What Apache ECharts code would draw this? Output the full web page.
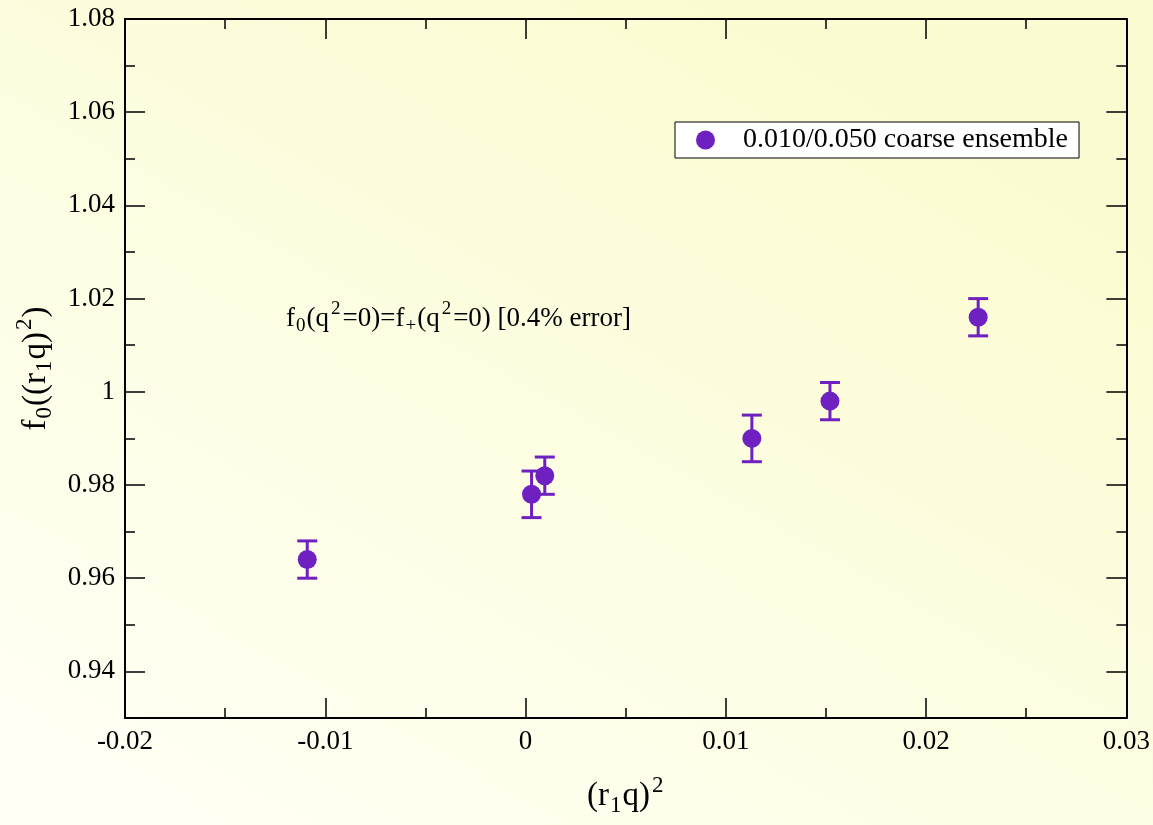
<!DOCTYPE html>
<html>
<head>
<meta charset="utf-8">
<script src="https://cdn.jsdelivr.net/npm/echarts@6/dist/echarts.min.js"></script>
<style>
html,body{margin:0;padding:0;}
#chart{width:1153px;height:825px;}
</style>
</head>
<body>
<div id="chart"></div>
<script>
// ---- data ----
var seriesName = '0.010/0.050 coarse ensemble';
var xValues = [-0.0109, 0.0003, 0.00096, 0.0113, 0.0152, 0.0226];
var yValues = [0.964, 0.978, 0.982, 0.990, 0.998, 1.016];
var yErrors = [0.004, 0.005, 0.004, 0.005, 0.004, 0.004];

var xMin = -0.02, xMax = 0.03, xStep = 0.01;
var xTickLabels = ['-0.02', '-0.01', '0', '0.01', '0.02', '0.03'];
var yMin = 0.93, yMax = 1.08;
var yMajorTicks = [0.94, 0.96, 0.98, 1.00, 1.02, 1.04, 1.06, 1.08];
var yTickLabels = ['0.94', '0.96', '0.98', '1', '1.02', '1.04', '1.06', '1.08'];
var yMinorTicks = [0.95, 0.97, 0.99, 1.01, 1.03, 1.05, 1.07];

var FONT = '"Liberation Serif", "DejaVu Serif", serif';
var PURPLE = '#6f20c0';

var points = xValues.map(function (x, i) { return [x, yValues[i]]; });
var errData = xValues.map(function (x, i) { return [x, yValues[i] - yErrors[i], yValues[i] + yErrors[i]]; });

var chart = echarts.init(document.getElementById('chart'), null, {renderer: 'canvas'});

function xLabel(v) {
  var idx = Math.round((v - xMin) / xStep);
  return xTickLabels[idx] !== undefined ? xTickLabels[idx] : '';
}
function yLabel(v) {
  for (var i = 0; i < yMajorTicks.length; i++) {
    if (Math.abs(yMajorTicks[i] - v) < 1e-6) return yTickLabels[i];
  }
  return '';
}

var nameRich = {
  sub: {fontSize: 23, fontFamily: FONT, color: '#000', padding: [18, 1, 0, 1]},
  sup: {fontSize: 23, fontFamily: FONT, color: '#000', padding: [0, 1, 22, 2]}
};

var option = {
  backgroundColor: {
    type: 'linear', x: 0.6, y: 0, x2: 0.2, y2: 1,
    colorStops: [{offset: 0, color: '#fbfbd2'}, {offset: 1, color: '#fffff3'}]
  },
  animation: false,
  grid: {left: 125, right: 26, top: 19, bottom: 107, containLabel: false},
  legend: {
    show: true,
    data: [seriesName],
    left: 675, top: 122,
    padding: [4, 11, 4, 21],
    backgroundColor: '#ffffff',
    borderColor: '#000000',
    borderWidth: 1,
    borderRadius: 0,
    itemWidth: 19, itemHeight: 19,
    icon: 'circle',
    textStyle: {fontFamily: FONT, fontSize: 28, color: '#000', padding: [0, 0, 0, 23]}
  },
  xAxis: [
    {
      type: 'value', min: xMin, max: xMax, interval: xStep, position: 'bottom',
      name: '(r{sub|1}q){sup|2}', nameLocation: 'middle', nameGap: 56,
      nameTextStyle: {fontFamily: FONT, fontSize: 33, color: '#000', rich: nameRich},
      axisLine: {show: true, onZero: false, lineStyle: {color: '#000', width: 2}},
      axisTick: {show: true, inside: true, length: 20, lineStyle: {color: '#000', width: 1.5}},
      minorTick: {show: true, splitNumber: 2, length: 10, lineStyle: {color: '#000', width: 1.5}},
      axisLabel: {show: true, margin: 10, fontFamily: FONT, fontSize: 27, color: '#000', formatter: xLabel},
      splitLine: {show: false}
    },
    {
      type: 'value', min: xMin, max: xMax, interval: xStep, position: 'top',
      axisLine: {show: true, onZero: false, lineStyle: {color: '#000', width: 2}},
      axisTick: {show: true, inside: true, length: 20, lineStyle: {color: '#000', width: 1.5}},
      minorTick: {show: true, splitNumber: 2, length: 10, lineStyle: {color: '#000', width: 1.5}},
      axisLabel: {show: false},
      splitLine: {show: false}
    }
  ],
  yAxis: [
    {
      type: 'value', min: yMin, max: yMax, position: 'left',
      name: 'f{sub|0}((r{sub|1}q){sup|2})', nameLocation: 'middle', nameGap: 66, nameRotate: 90,
      nameTextStyle: {fontFamily: FONT, fontSize: 33, color: '#000', rich: nameRich},
      axisLine: {show: true, onZero: false, lineStyle: {color: '#000', width: 2}},
      axisTick: {show: true, inside: true, length: 20, customValues: yMajorTicks, lineStyle: {color: '#000', width: 1.5}},
      axisLabel: {show: true, margin: 10, fontFamily: FONT, fontSize: 27, color: '#000', customValues: yMajorTicks, formatter: yLabel},
      splitLine: {show: false}
    },
    {
      type: 'value', min: yMin, max: yMax, position: 'left',
      axisLine: {show: false, onZero: false},
      axisTick: {show: true, inside: true, length: 10, customValues: yMinorTicks, lineStyle: {color: '#000', width: 1.5}},
      axisLabel: {show: false},
      splitLine: {show: false}
    },
    {
      type: 'value', min: yMin, max: yMax, position: 'right',
      axisLine: {show: true, onZero: false, lineStyle: {color: '#000', width: 2}},
      axisTick: {show: true, inside: true, length: 20, customValues: yMajorTicks, lineStyle: {color: '#000', width: 1.5}},
      axisLabel: {show: false},
      splitLine: {show: false}
    },
    {
      type: 'value', min: yMin, max: yMax, position: 'right',
      axisLine: {show: false, onZero: false},
      axisTick: {show: true, inside: true, length: 10, customValues: yMinorTicks, lineStyle: {color: '#000', width: 1.5}},
      axisLabel: {show: false},
      splitLine: {show: false}
    }
  ],
  graphic: [
    {
      type: 'text', left: 286, top: 300, z: 100,
      style: {
        text: 'f{sub|0}(q{sup|2}=0)=f{sub|+}(q{sup|2}=0) [0.4% error]',
        fontFamily: FONT, fontSize: 27, fill: '#000',
        rich: {
          sub: {fontSize: 19, fontFamily: FONT, fill: '#000', padding: [16, 1, 0, 1]},
          sup: {fontSize: 19, fontFamily: FONT, fill: '#000', padding: [0, 2, 18, 2]}
        }
      }
    }
  ],
  series: [
    {
      type: 'custom', name: 'err', xAxisIndex: 0, yAxisIndex: 0, z: 2,
      data: errData,
      encode: {x: 0, y: [1, 2]},
      renderItem: function (params, api) {
        var x = api.value(0);
        var lo = api.coord([x, api.value(1)]);
        var hi = api.coord([x, api.value(2)]);
        var hw = 10;
        var st = {stroke: PURPLE, lineWidth: 3};
        return {
          type: 'group',
          children: [
            {type: 'line', shape: {x1: lo[0], y1: lo[1], x2: hi[0], y2: hi[1]}, style: st},
            {type: 'line', shape: {x1: lo[0] - hw, y1: lo[1], x2: lo[0] + hw, y2: lo[1]}, style: st},
            {type: 'line', shape: {x1: hi[0] - hw, y1: hi[1], x2: hi[0] + hw, y2: hi[1]}, style: st}
          ]
        };
      }
    },
    {
      type: 'scatter', name: seriesName, xAxisIndex: 0, yAxisIndex: 0, z: 3,
      symbol: 'circle', symbolSize: 19,
      itemStyle: {color: PURPLE, opacity: 1},
      data: points
    }
  ]
};
chart.setOption(option);
</script>
</body>
</html>
